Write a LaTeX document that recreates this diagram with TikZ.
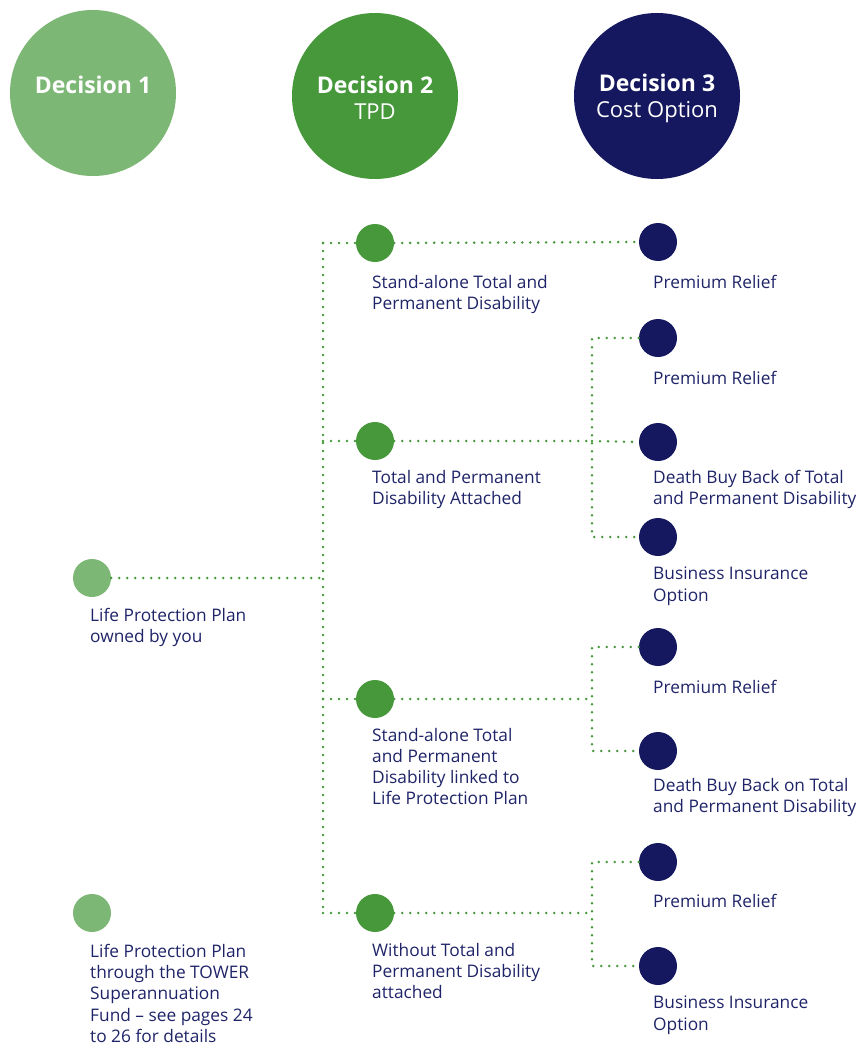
\documentclass[tikz,border=0pt]{standalone}
\usepackage{fontspec}
\setmainfont{Open Sans}
\definecolor{lgreen}{HTML}{7DB775}
\definecolor{dgreen}{HTML}{46983B}
\definecolor{navy}{HTML}{15185E}
\definecolor{txt}{HTML}{1F2468}
\begin{document}
\begin{tikzpicture}[x=1pt,y=-1pt,
  big/.style={circle,minimum size=166pt,inner sep=0pt},
  hd/.style={text=white,align=center,inner sep=0pt,font=\fontsize{22}{26}\selectfont},
  dot/.style={circle,minimum size=38pt,inner sep=0pt},
  d1/.style={dot,fill=lgreen},
  d2/.style={dot,fill=dgreen},
  d3/.style={dot,fill=navy},
  lbl/.style={anchor=north west,inner sep=0pt,align=left,text=txt,font=\fontsize{17.3}{21.2}\selectfont},
  link/.style={draw=dgreen,line width=2.8pt,line cap=round,dash pattern=on 0pt off 8pt}]
\useasboundingbox (0,0) rectangle (863,1046);
% headers
\node[big,fill=lgreen] (h1) at (93,93) {};
\node[big,fill=dgreen] (h2) at (375,96) {};
\node[big,fill=navy] (h3) at (657,96) {};
\node[hd] (h1t) at (93,85) {\bfseries\fontsize{23}{26}\selectfont Decision 1};
\node[hd] (h2t) at (375,98) {{\bfseries\fontsize{23}{26}\selectfont Decision 2}\\TPD};
\node[hd] (h3t) at (657,98) {{\bfseries\fontsize{23}{26}\selectfont Decision 3}\\Cost Option};
% decision 1
\node[d1] (a1) at (92,578) {};
\node[d1] (a2) at (92,913) {};
% decision 2
\node[d2] (b1) at (375,243) {};
\node[d2] (b2) at (375,441) {};
\node[d2] (b3) at (375,699) {};
\node[d2] (b4) at (375,913) {};
% decision 3
\node[d3] (c1) at (658,242) {};
\node[d3] (c2) at (658,338) {};
\node[d3] (c3) at (658,442) {};
\node[d3] (c4) at (658,537) {};
\node[d3] (c5) at (658,647) {};
\node[d3] (c6) at (658,751) {};
\node[d3] (c7) at (658,862) {};
\node[d3] (c8) at (658,966) {};
% junction coordinates
\coordinate (t0) at (323,578);
\coordinate (t1) at (323,243);
\coordinate (t4) at (323,913);
\coordinate (j2) at (592,441);
\coordinate (j3) at (592,699);
\coordinate (j4) at (592,913);
% connectors
\draw[link] (a1.east) -- (t0);
\draw[link] (t1) -- (t4);
\draw[link] (t1) -- (b1.west);
\draw[link] (323,441) -- (b2.west);
\draw[link] (323,699) -- (b3.west);
\draw[link] (t4) -- (b4.west);
\draw[link] (b1.east) -- (c1.west);
\draw[link] (b2.east) -- (j2);
\draw[link] (c2.west) -| (j2) |- (c4.west);
\draw[link] (j2) -- (c3.west);
\draw[link] (b3.east) -- (j3);
\draw[link] (c5.west) -| (j3) |- (c6.west);
\draw[link] (b4.east) -- (j4);
\draw[link] (c7.west) -| (j4) |- (c8.west);
% labels
\node[lbl] (la1) at (90,608) {Life Protection Plan\\owned by you};
\node[lbl] (la2) at (90,944) {Life Protection Plan\\through the TOWER\\Superannuation\\Fund -- see pages 24\\to 26 for details};
\node[lbl] (lb1) at (372,275) {Stand-alone Total and\\Permanent Disability};
\node[lbl] (lb2) at (372,470) {Total and Permanent\\Disability Attached};
\node[lbl] (lb3) at (372,728) {Stand-alone Total\\and Permanent\\Disability linked to\\Life Protection Plan};
\node[lbl] (lb4) at (372,943) {Without Total and\\Permanent Disability\\attached};
\node[lbl] (lc1) at (653,275) {Premium Relief};
\node[lbl] (lc2) at (653,371) {Premium Relief};
\node[lbl] (lc3) at (653,470) {Death Buy Back of Total\\and Permanent Disability};
\node[lbl] (lc4) at (653,567) {Business Insurance\\Option};
\node[lbl] (lc5) at (653,680) {Premium Relief};
\node[lbl] (lc6) at (653,778) {Death Buy Back on Total\\and Permanent Disability};
\node[lbl] (lc7) at (653,894) {Premium Relief};
\node[lbl] (lc8) at (653,996) {Business Insurance\\Option};
\end{tikzpicture}
\end{document}
